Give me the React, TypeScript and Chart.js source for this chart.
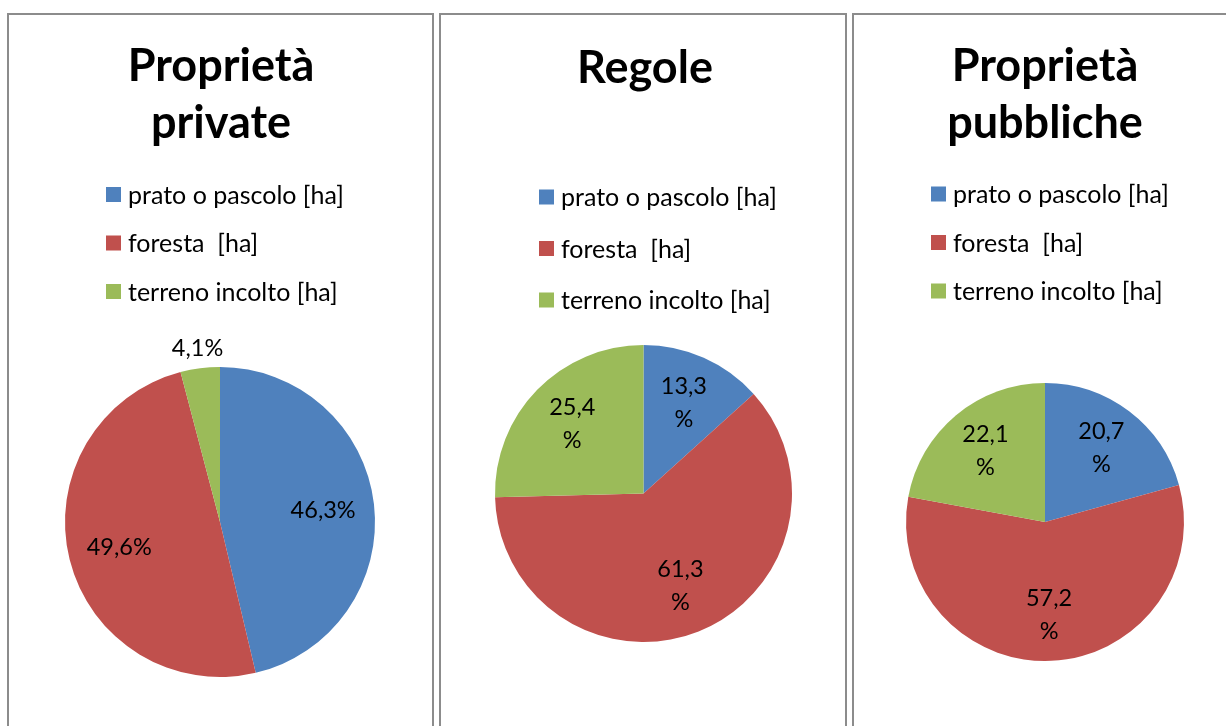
import React, { useEffect, useRef } from "react";
import { Chart, registerables } from "chart.js";

Chart.register(...registerables);

// ---- data ----
const categories = ["prato o pascolo [ha]", "foresta  [ha]", "terreno incolto [ha]"];
const sliceColors = ["#4F81BD", "#C0504D", "#9BBB59"];

const titlePrivate = ["Proprietà", "private"];
const titleRegole = ["Regole"];
const titlePubbliche = ["Proprietà", "pubbliche"];

const valuesPrivate = [46.3, 49.6, 4.1];
const valuesRegole = [13.3, 61.3, 25.4];
const valuesPubbliche = [20.7, 57.2, 22.1];

const FONT = "Lato, 'Open Sans', sans-serif";

type PanelCfg = {
  left: number;
  width: number;
  title: string[];
  values: number[];
  titleX: number;
  titleY: number;
  legendX: number;
  legendY: number;
  legendGap: number;
  wrap: boolean;
  padding: { left: number; right: number; top: number; bottom: number };
};

const decorPlugin = {
  id: "decor",
  afterDraw(chart: any, _args: any, opts: any) {
    const ctx = chart.ctx as CanvasRenderingContext2D;
    ctx.save();
    // title
    ctx.fillStyle = "#000";
    ctx.font = `bold ${opts.titleSize}px ${FONT}`;
    ctx.textAlign = "center";
    ctx.textBaseline = "alphabetic";
    (opts.title as string[]).forEach((line, i) => {
      ctx.fillText(line, opts.titleX, opts.titleY + i * opts.titleLine);
    });
    // legend
    const labels = chart.data.labels as string[];
    const bg = chart.data.datasets[0].backgroundColor as string[];
    ctx.font = `${opts.legendSize}px ${FONT}`;
    ctx.textAlign = "left";
    ctx.textBaseline = "middle";
    labels.forEach((l, i) => {
      const y = opts.legendY + i * opts.legendGap;
      ctx.fillStyle = bg[i];
      ctx.fillRect(opts.legendX, y - 7.5, 15, 15);
      ctx.fillStyle = "#000";
      ctx.fillText(l, opts.legendX + 22, y + 1);
    });
    // data labels
    const meta = chart.getDatasetMeta(0);
    const data = chart.data.datasets[0].data as number[];
    const total = data.reduce((a, b) => a + b, 0);
    ctx.font = `${opts.labelSize}px ${FONT}`;
    ctx.textAlign = "center";
    ctx.textBaseline = "middle";
    ctx.fillStyle = "#000";
    meta.data.forEach((arc: any, i: number) => {
      const p = arc.getProps(["x", "y", "startAngle", "endAngle", "outerRadius"], true);
      const mid = (p.startAngle + p.endAngle) / 2;
      const pct = (data[i] / total) * 100;
      const outside = pct < 5;
      const r = outside ? p.outerRadius + 20 : p.outerRadius * 0.67;
      const lx = p.x + Math.cos(mid) * r;
      const ly = p.y + Math.sin(mid) * r;
      const txt = pct.toFixed(1).replace(".", ",");
      const lines = opts.wrap && !outside ? [txt, "%"] : [txt + "%"];
      lines.forEach((ln, k) => {
        ctx.fillText(ln, lx, ly + (k - (lines.length - 1) / 2) * opts.labelLine);
      });
    });
    ctx.restore();
  },
};

const CANVAS_H = 711;

function PiePanel({ cfg }: { cfg: PanelCfg }) {
  const ref = useRef<HTMLCanvasElement | null>(null);
  useEffect(() => {
    if (!ref.current) return;
    const chart = new Chart(ref.current, {
      type: "pie",
      data: {
        labels: categories,
        datasets: [
          {
            data: cfg.values,
            backgroundColor: sliceColors,
            borderWidth: 0,
          },
        ],
      },
      options: {
        animation: false,
        responsive: false,
        devicePixelRatio: 1,
        layout: { padding: cfg.padding },
        plugins: {
          legend: { display: false },
          tooltip: { enabled: false },
          title: { display: false },
          decor: {
            title: cfg.title,
            titleX: cfg.titleX,
            titleY: cfg.titleY,
            titleLine: 57,
            titleSize: 45,
            legendX: cfg.legendX,
            legendY: cfg.legendY,
            legendGap: cfg.legendGap,
            legendSize: 25,
            labelSize: 23.5,
            labelLine: 33,
            wrap: cfg.wrap,
          },
        } as any,
      },
      plugins: [decorPlugin],
    });
    let alive = true;
    (document as any).fonts?.ready?.then(() => {
      if (alive) chart.update();
    });
    return () => {
      alive = false;
      chart.destroy();
    };
  }, [cfg]);

  return (
    <div
      style={{
        position: "absolute",
        left: cfg.left,
        top: 13,
        width: cfg.width,
        height: 800,
        border: "2px solid #8c8c8c",
        boxSizing: "border-box",
        background: "#fff",
      }}
    >
      <canvas
        ref={ref}
        width={cfg.width - 4}
        height={CANVAS_H}
        style={{ position: "absolute", left: 0, top: 0, width: cfg.width - 4, height: CANVAS_H }}
      />
    </div>
  );
}

const panels: PanelCfg[] = [
  {
    left: 7,
    width: 427,
    title: titlePrivate,
    values: valuesPrivate,
    titleX: 212,
    titleY: 65.5,
    legendX: 97,
    legendY: 179.5,
    legendGap: 48.5,
    wrap: false,
    padding: { left: 56, right: 57, top: 352, bottom: 49 },
  },
  {
    left: 439,
    width: 408,
    title: titleRegole,
    values: valuesRegole,
    titleX: 204,
    titleY: 68,
    legendX: 98,
    legendY: 182,
    legendGap: 51.5,
    wrap: true,
    padding: { left: 54, right: 53, top: 330, bottom: 84 },
  },
  {
    left: 852,
    width: 420,
    title: titlePubbliche,
    values: valuesPubbliche,
    titleX: 191,
    titleY: 65.5,
    legendX: 77,
    legendY: 179,
    legendGap: 48.5,
    wrap: true,
    padding: { left: 52, right: 86, top: 368, bottom: 65 },
  },
];

export default function App() {
  return (
    <div
      style={{
        position: "fixed",
        left: 0,
        top: 0,
        width: 1226,
        height: 726,
        overflow: "hidden",
        background: "#fff",
      }}
    >
      {panels.map((p, i) => (
        <PiePanel key={i} cfg={p} />
      ))}
    </div>
  );
}
